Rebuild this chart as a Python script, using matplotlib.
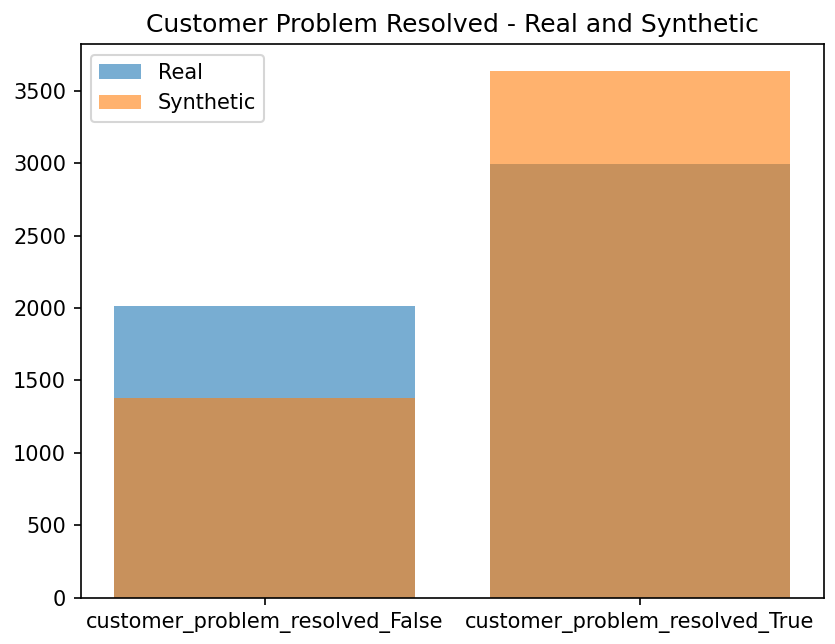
import matplotlib
matplotlib.use("Agg")
import matplotlib.pyplot as plt

categories = ["customer_problem_resolved_False", "customer_problem_resolved_True"]
real_values = [2015, 2997]
synthetic_values = [1380, 3638]

fig = plt.figure(figsize=(835/150, 644/150), dpi=150)
ax = fig.add_axes([80.7/835, 1-597.7/644, (824-80.7)/835, (597.7-44.3)/644])
ax.bar(categories, real_values, alpha=0.6, label="Real")
ax.bar(categories, synthetic_values, alpha=0.6, label="Synthetic")
ax.set_title("Customer Problem Resolved - Real and Synthetic")
ax.legend(loc="upper left")
fig.savefig("out.png", dpi=150)
